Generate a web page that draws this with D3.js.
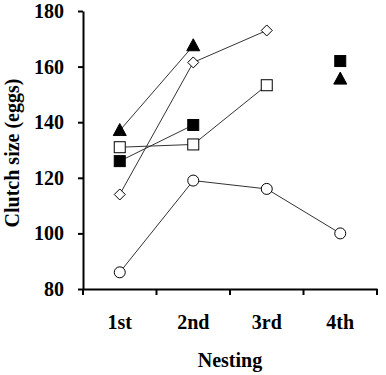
<!DOCTYPE html>
<html><head><meta charset="utf-8">
<script src="https://cdn.jsdelivr.net/npm/d3@7"></script>
<style>body{margin:0;background:#fff}svg{display:block}</style>
</head><body>
<script>
const categories = ["1st","2nd","3rd","4th"];
const yTicks = [80,100,120,140,160,180];
const triangleFilled = [137,167.5,null,155.5];
const squareFilled = [126,139,null,162];
const squareOpen = [131,132,153.3,null];
const diamondOpen = [114,161.5,173,null];
const circleOpen = [86,119,116,100];

(function(){
const series = [
  {values: circleOpen, shape: "circle", fill: "#fff"},
  {values: squareOpen, shape: "square", fill: "#fff"},
  {values: diamondOpen, shape: "diamond", fill: "#fff"},
  {values: squareFilled, shape: "square", fill: "#000"},
  {values: triangleFilled, shape: "triangle", fill: "#000"}
];

const W = 386, H = 375;
const mLeft = 83, mRight = 377, mTop = 11, mBottom = 289;
const svg = d3.select("body").append("svg").attr("width", W).attr("height", H);

const x = d3.scaleBand().domain(categories).range([mLeft, mRight]);
const y = d3.scaleLinear().domain([80,180]).range([mBottom, mTop]);

const font = "'Liberation Serif','Times New Roman',serif";

const line = d3.line().defined(d => d.v != null).x(d => x(d.c) + x.bandwidth()/2).y(d => y(d.v));
series.forEach(s => {
  const pts = categories.map((c,i) => ({c, v: s.values[i]}));
  svg.append("path").attr("d", line(pts)).attr("fill","none").attr("stroke","#333").attr("stroke-width",1);
});

const yAxis = svg.append("g").attr("transform", `translate(${mLeft},0)`)
  .call(d3.axisLeft(y).tickValues(yTicks).tickSize(5).tickPadding(14).tickSizeOuter(0));
const xAxis = svg.append("g").attr("transform", `translate(0,${mBottom})`)
  .call(d3.axisBottom(x).tickSize(0).tickPadding(26));
[yAxis, xAxis].forEach(g => {
  g.select(".domain").attr("stroke","#000").attr("stroke-width",2);
  g.selectAll("text").attr("font-family", font).attr("font-weight","bold").attr("font-size",20).attr("fill","#000");
  g.selectAll(".tick line").attr("stroke","#000").attr("stroke-width",2);
});
const bounds = categories.map(c => x(c)).concat([mRight]);
svg.append("g").selectAll("line").data(bounds).join("line")
  .attr("x1", d => d).attr("x2", d => d).attr("y1", mBottom).attr("y2", mBottom+6)
  .attr("stroke","#000").attr("stroke-width",2);

series.forEach(s => {
  const pts = categories.map((c,i) => ({c, v: s.values[i]})).filter(d => d.v != null);
  const g = svg.append("g");
  pts.forEach(d => {
    const cx = x(d.c) + x.bandwidth()/2, cy = y(d.v);
    if (s.shape === "circle") {
      g.append("circle").attr("cx",cx).attr("cy",cy).attr("r",5.5).attr("fill",s.fill).attr("stroke","#000").attr("stroke-width",1);
    } else if (s.shape === "square") {
      g.append("rect").attr("x",cx-5.5).attr("y",cy-5.5).attr("width",11).attr("height",11).attr("fill",s.fill).attr("stroke","#000").attr("stroke-width",1);
    } else if (s.shape === "diamond") {
      g.append("path").attr("d",`M${cx},${cy-5.5}L${cx+5.5},${cy}L${cx},${cy+5.5}L${cx-5.5},${cy}Z`).attr("fill",s.fill).attr("stroke","#000").attr("stroke-width",1);
    } else {
      g.append("path").attr("d",`M${cx},${cy-7}L${cx+6.5},${cy+5}L${cx-6.5},${cy+5}Z`).attr("fill",s.fill).attr("stroke","#000").attr("stroke-width",1);
    }
  });
});

svg.append("text").attr("x", 230).attr("y", 367).attr("text-anchor","middle")
  .attr("font-family",font).attr("font-weight","bold").attr("font-size",20).text("Nesting");
svg.append("text").attr("transform","translate(19,153) rotate(-90)").attr("text-anchor","middle")
  .attr("font-family",font).attr("font-weight","bold").attr("font-size",20).text("Clutch size (eggs)");
})();
</script>
</body></html>
